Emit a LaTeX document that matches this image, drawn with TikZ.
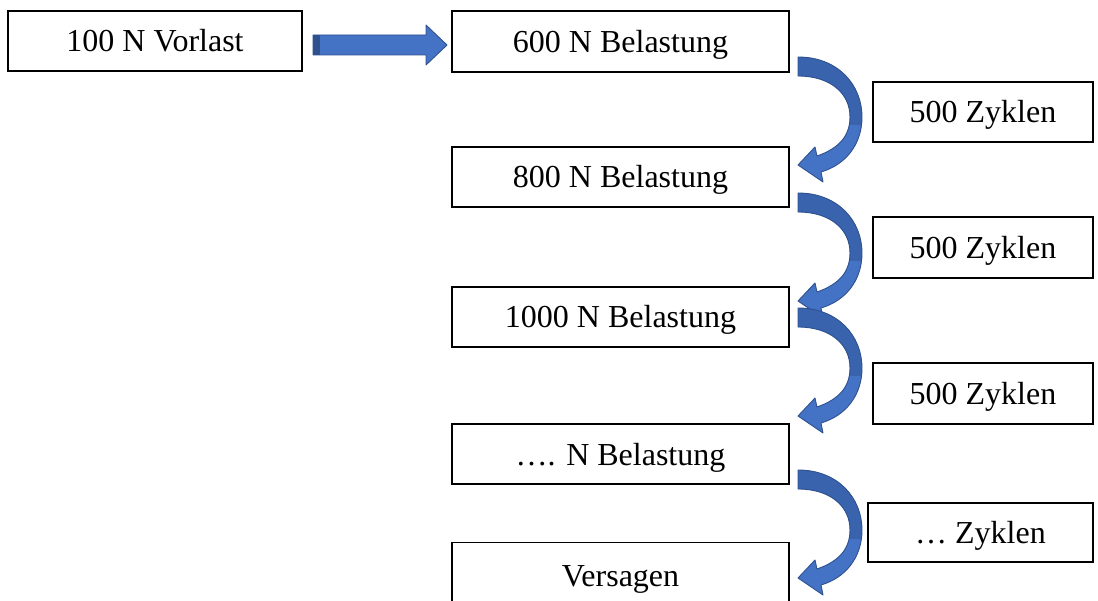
\documentclass[tikz,border=0pt]{standalone}
\usepackage{fontspec}
\setmainfont{Liberation Serif}
\definecolor{lt}{HTML}{4472C4}
\definecolor{dk}{HTML}{3A63AE}
\definecolor{ed}{HTML}{2F528F}
\tikzset{
  box/.style={draw=black, line width=1.2pt, fill=white, inner sep=0pt, text height=22pt, text depth=0pt, font=\fontsize{32}{36}\selectfont},
  carrow/.pic={
    \def\shp{(0,0) .. controls (40,0) and (64,28) .. (64,60)
      .. controls (64,88) and (47,108) .. (23,115)
      -- (25,125) -- (0,108) -- (17,90) -- (19,99)
      .. controls (42,91) and (52,78) .. (52,60)
      .. controls (52,36) and (32,19) .. (0,19) -- cycle}
    \fill[lt] \shp;
    \begin{scope}
      \clip (-5,-5) rectangle (80,68);
      \fill[dk] \shp;
    \end{scope}
    \draw[ed, line width=0.9pt, line join=round] \shp;
  }
}
\begin{document}
\begin{tikzpicture}[x=1pt,y=-1pt]
\useasboundingbox (0,0) rectangle (1098,601);
\clip (0,0) rectangle (1098,601);
\fill[white] (0,0) rectangle (1098,601);

\newcommand\bx[6]{\node[box, minimum width=#4-#2, minimum height=#5-#3] (#1) at ({(#2+#4)/2},{(#3+#5)/2}) {#6};}
\bx{b1}{8}{11}{302}{71}{100 N Vorlast}
\bx{b2}{452}{11}{789}{72}{600 N Belastung}
\bx{z1}{873}{82}{1093}{142}{500 Zyklen}
\bx{b3}{452}{147}{789}{207}{800 N Belastung}
\bx{z2}{873}{217}{1093}{278}{500 Zyklen}
\bx{b4}{452}{287}{789}{347}{1000 N Belastung}
\bx{z3}{873}{363}{1093}{424}{500 Zyklen}
\bx{b5}{452}{424}{789}{484}{\dots. N Belastung}
\bx{z4}{868}{503}{1093}{562}{\dots\ Zyklen}
\node[box, minimum width=337, minimum height=66, anchor=north] (b6) at (620.5,542) {Versagen};

% straight block arrow
\fill[lt] (313,35) -- (426,35) -- (426,25) -- (447,45) -- (426,65) -- (426,55) -- (313,55) -- cycle;
\fill[ed] (313,35) rectangle (320,55);
\draw[ed, line width=0.9pt, line join=round] (313,35) -- (426,35) -- (426,25) -- (447,45) -- (426,65) -- (426,55) -- (313,55) -- cycle;

% curved arrows
\pic at (798,57) {carrow};
\pic at (798,193) {carrow};
\pic at (798,308) {carrow};
\pic at (798,470) {carrow};
\end{tikzpicture}
\end{document}
